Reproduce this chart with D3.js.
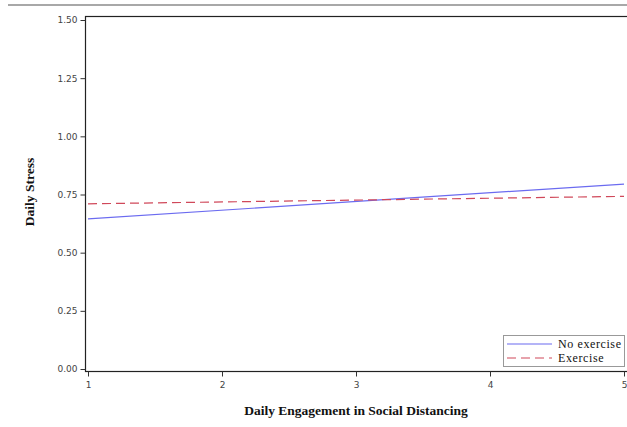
<!DOCTYPE html>
<html>
<head>
<meta charset="utf-8">
<script src="https://cdn.jsdelivr.net/npm/d3@7"></script>
<style>
  body { margin: 0; background: #fff; }
  svg { display: block; }
  .tick text { font-family: "DejaVu Sans", sans-serif; font-size: 9px; fill: #444; }
  .axis-title { font-family: "Liberation Serif", serif; font-weight: bold; font-size: 13.5px; fill: #111; }
  .legend text { font-family: "Liberation Serif", serif; font-size: 12px; fill: #111; letter-spacing: 0.6px; }
</style>
</head>
<body>
<div id="chart"></div>
<script>
// 資料
const xValues = [1, 5];
const noExercise = [0.645, 0.795];
const exercise = [0.71, 0.742];
const xTicks = [1, 2, 3, 4, 5];
const yTicks = [0, 0.25, 0.5, 0.75, 1.0, 1.25, 1.5];
const seriesNames = ["No exercise", "Exercise"];

const width = 627, height = 427;
const svg = d3.select("#chart").append("svg")
    .attr("width", width).attr("height", height);

// 上方灰線
svg.append("line")
    .attr("x1", 8).attr("x2", width).attr("y1", 5).attr("y2", 5)
    .attr("stroke", "#a8a8a8").attr("stroke-width", 2);

const x = d3.scaleLinear().domain([1, 5]).range([88, 624]);
const y = d3.scaleLinear().domain([0, 1.5]).range([369, 20]);

// 框
svg.append("rect")
    .attr("x", 85.5).attr("y", 16.5)
    .attr("width", 543).attr("height", 355)
    .attr("fill", "none").attr("stroke", "#222").attr("stroke-width", 1.2);

// y 軸
const yAxis = svg.append("g")
    .attr("transform", "translate(85.5,0)")
    .call(d3.axisLeft(y).tickValues(yTicks).tickFormat(d3.format(".2f")).tickSize(5).tickPadding(3));
yAxis.select(".domain").remove();
yAxis.selectAll(".tick line").attr("stroke", "#333");

// x 軸
const xAxis = svg.append("g")
    .attr("transform", "translate(0,371.5)")
    .call(d3.axisBottom(x).tickValues(xTicks).tickFormat(d3.format("d")).tickSize(5).tickPadding(5));
xAxis.select(".domain").remove();
xAxis.selectAll(".tick line").attr("stroke", "#333");

// 標題
svg.append("text").attr("class", "axis-title")
    .attr("x", 356).attr("y", 415).attr("text-anchor", "middle")
    .text("Daily Engagement in Social Distancing");
svg.append("text").attr("class", "axis-title")
    .attr("transform", "translate(34,192) rotate(-90)")
    .attr("text-anchor", "middle")
    .text("Daily Stress");

// 線
const line = d3.line().x((d, i) => x(xValues[i])).y(d => y(d));
svg.append("path").datum(noExercise)
    .attr("d", line).attr("fill", "none")
    .attr("stroke", "#6b6bf0").attr("stroke-width", 1.2);
svg.append("path").datum(exercise)
    .attr("d", line).attr("fill", "none")
    .attr("stroke", "#d0485a").attr("stroke-width", 1.2)
    .attr("stroke-dasharray", "9,5");

// 圖例
const legend = svg.append("g").attr("class", "legend");
legend.append("rect")
    .attr("x", 503.5).attr("y", 335.5).attr("width", 121).attr("height", 31)
    .attr("fill", "#fff").attr("stroke", "#999");
const legendStyles = [
    { color: "#6b6bf0", dash: null },
    { color: "#d0485a", dash: "9,5" }
];
seriesNames.forEach((name, i) => {
    const ly = 344 + i * 14;
    legend.append("line")
        .attr("x1", 507).attr("x2", 552).attr("y1", ly).attr("y2", ly)
        .attr("stroke", legendStyles[i].color).attr("stroke-width", 1.2)
        .attr("stroke-dasharray", legendStyles[i].dash);
    legend.append("text")
        .attr("x", 558).attr("y", ly + 4).text(name);
});
</script>
</body>
</html>
